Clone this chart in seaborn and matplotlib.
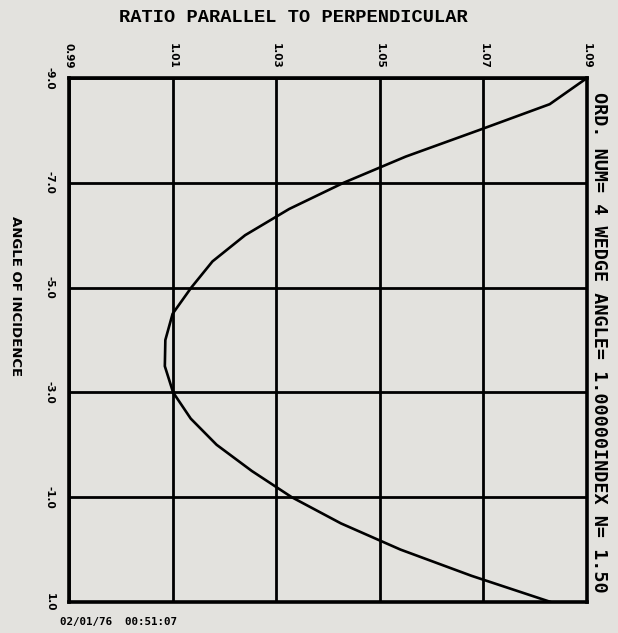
import matplotlib
matplotlib.use("Agg")
import matplotlib.pyplot as plt
import seaborn as sns
import pandas as pd

# Angle of incidence (degrees) and the parallel/perpendicular ratio
angle = [-9.0, -8.5, -8.0, -7.5, -7.0, -6.5, -6.0, -5.5, -5.0, -4.5, -4.0,
         -3.5, -3.0, -2.5, -2.0, -1.5, -1.0, -0.5, 0.0, 0.5, 1.0]
ratio = [1.0900, 1.0828, 1.0690, 1.0550, 1.0430, 1.0325, 1.0240, 1.0177,
         1.0136, 1.0100, 1.0086, 1.0085, 1.0101, 1.0135, 1.0185, 1.0253,
         1.0330, 1.0425, 1.0540, 1.0677, 1.0830]

ratio_ticks = [0.99, 1.01, 1.03, 1.05, 1.07, 1.09]
ratio_labels = ["0.99", "1.01", "1.03", "1.05", "1.07", "1.09"]
angle_ticks = [-9.0, -7.0, -5.0, -3.0, -1.0, 1.0]
angle_labels = ["-9.0", "-7.0", "-5.0", "-3.0", "-1.0", "1.0"]

title = "RATIO PARALLEL TO PERPENDICULAR"
ylabel = "ANGLE OF INCIDENCE"
info = "ORD. NUM= 4 WEDGE ANGLE= 1.00000INDEX N= 1.50"
stamp = "02/01/76  00:51:07"

bg = "#e3e2de"
sns.set_theme(style="white")
plt.rcParams["font.family"] = ["DejaVu Sans"]
plt.rcParams["text.color"] = "black"
plt.rcParams["xtick.color"] = "black"
plt.rcParams["ytick.color"] = "black"

df = pd.DataFrame({"ratio": ratio, "angle": angle})

W, H = 618, 633
L, R, T, B = 69, 587, 78, 602
fig = plt.figure(figsize=(W / 100, H / 100), dpi=100, facecolor=bg)
ax = fig.add_axes([L / W, 1 - B / H, (R - L) / W, (B - T) / H], facecolor=bg)

sns.lineplot(data=df, x="ratio", y="angle", sort=False, estimator=None,
             color="black", lw=1.9, ax=ax)

ax.set_xlim(0.99, 1.09)
ax.set_ylim(1.0, -9.0)
ax.set_xticks(ratio_ticks)
ax.set_xticklabels(ratio_labels)
ax.set_yticks(angle_ticks)
ax.set_yticklabels(angle_labels)
ax.xaxis.tick_top()
ax.tick_params(axis="x", length=0, pad=16, labelrotation=-90, labelsize=7.5)
ax.tick_params(axis="y", length=0, pad=14, labelrotation=-90, labelsize=7.5)
for lab in ax.get_xticklabels() + ax.get_yticklabels():
    lab.set_fontweight("bold")
    lab.set_va("center")
    lab.set_ha("center")
ax.set_xlabel("")
ax.set_ylabel("")

ax.grid(True, color="black", lw=2.0)
for s in ax.spines.values():
    s.set_visible(True)
    s.set_color("black")
    s.set_linewidth(2.6)

fig.text(293 / W, 1 - 17 / H, title, ha="center", va="center",
         family="Liberation Mono", fontweight="bold", fontsize=13.5)
fig.text(15 / W, 1 - 296 / H, ylabel, ha="center", va="center",
         rotation=-90, fontweight="bold", fontsize=9.5)
fig.text(599 / W, 1 - 342 / H, info, ha="center", va="center",
         rotation=-90, family="DejaVu Sans Mono", fontweight="bold",
         fontsize=13.3)
fig.text(60 / W, 1 - 622 / H, stamp, ha="left", va="center",
         family="DejaVu Sans Mono", fontweight="bold", fontsize=7.8)

fig.savefig("out.png", dpi=100, facecolor=bg)
